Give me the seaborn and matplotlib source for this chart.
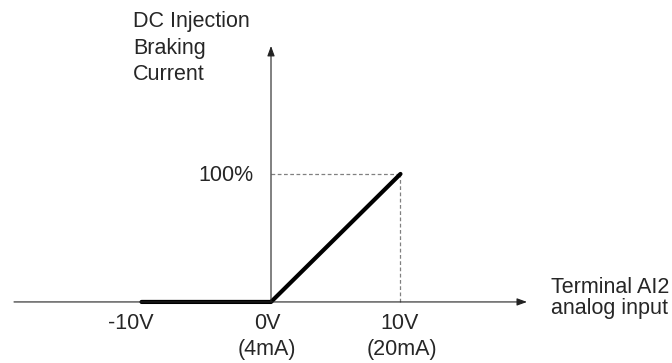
import numpy as np
import pandas as pd
import seaborn as sns
import matplotlib.pyplot as plt

sns.set_style("white")
plt.rcParams['font.family'] = ['Liberation Sans', 'DejaVu Sans']

# curve points: analog input (V) vs braking current (%)
volts = [-10, 0, 10]
current = [0, 0, 100]
tick_pos = [-10, 0, 10]
tick_top = ["-10V", "0V", "10V"]
tick_bottom = ["", "(4mA)", "(20mA)"]

df = pd.DataFrame({"V": volts, "I": current})

fig = plt.figure(figsize=(6.72, 3.63), dpi=100)
ax = fig.add_axes([0, 0, 1, 1])
ax.set_xlim(-20.93, 30.97)
ax.set_ylim(-47.7, 235.9)
ax.axis('off')

# axes with arrows
arr = dict(arrowstyle="-|>,head_length=0.6,head_width=0.22", color="#222222", lw=0.8, shrinkA=0, shrinkB=0)
ax.annotate("", xy=(19.77, 0), xytext=(-19.85, 0), arrowprops=arr)
ax.annotate("", xy=(0, 200), xytext=(0, 0), arrowprops=arr)

# dashed guides
ax.plot([0, 10], [100, 100], color="#808080", lw=0.9, ls=(0, (3, 2)))
ax.plot([10, 10], [0, 100], color="#808080", lw=0.9, ls=(0, (3, 2)))

sns.lineplot(data=df, x="V", y="I", color="black", linewidth=3, ax=ax, legend=False)
ax.axis('off')

fs = 15.5
ax.text(-10.66, 214.8, "DC Injection", fontsize=fs, ha='left', va='baseline')
ax.text(-10.66, 193.75, "Braking", fontsize=fs, ha='left', va='baseline')
ax.text(-10.66, 173.4, "Current", fontsize=fs, ha='left', va='baseline')
ax.text(-1.39, 94.5, "100%", fontsize=fs, ha='right', va='baseline')

offsets = [-0.81, -0.31, -0.08]
offsets2 = [0, -0.31, 0.1]
for p, t, b, o, o2 in zip(tick_pos, tick_top, tick_bottom, offsets, offsets2):
    ax.text(p + o, -21.1, t, fontsize=fs, ha='center', va='baseline')
    if b:
        ax.text(p + o2, -41.4, b, fontsize=fs, ha='center', va='baseline')

ax.text(21.62, 7.0, "Terminal AI2", fontsize=fs, ha='left', va='baseline')
ax.text(21.62, -9.4, "analog input", fontsize=fs, ha='left', va='baseline')

plt.savefig('out.png', dpi=100)
